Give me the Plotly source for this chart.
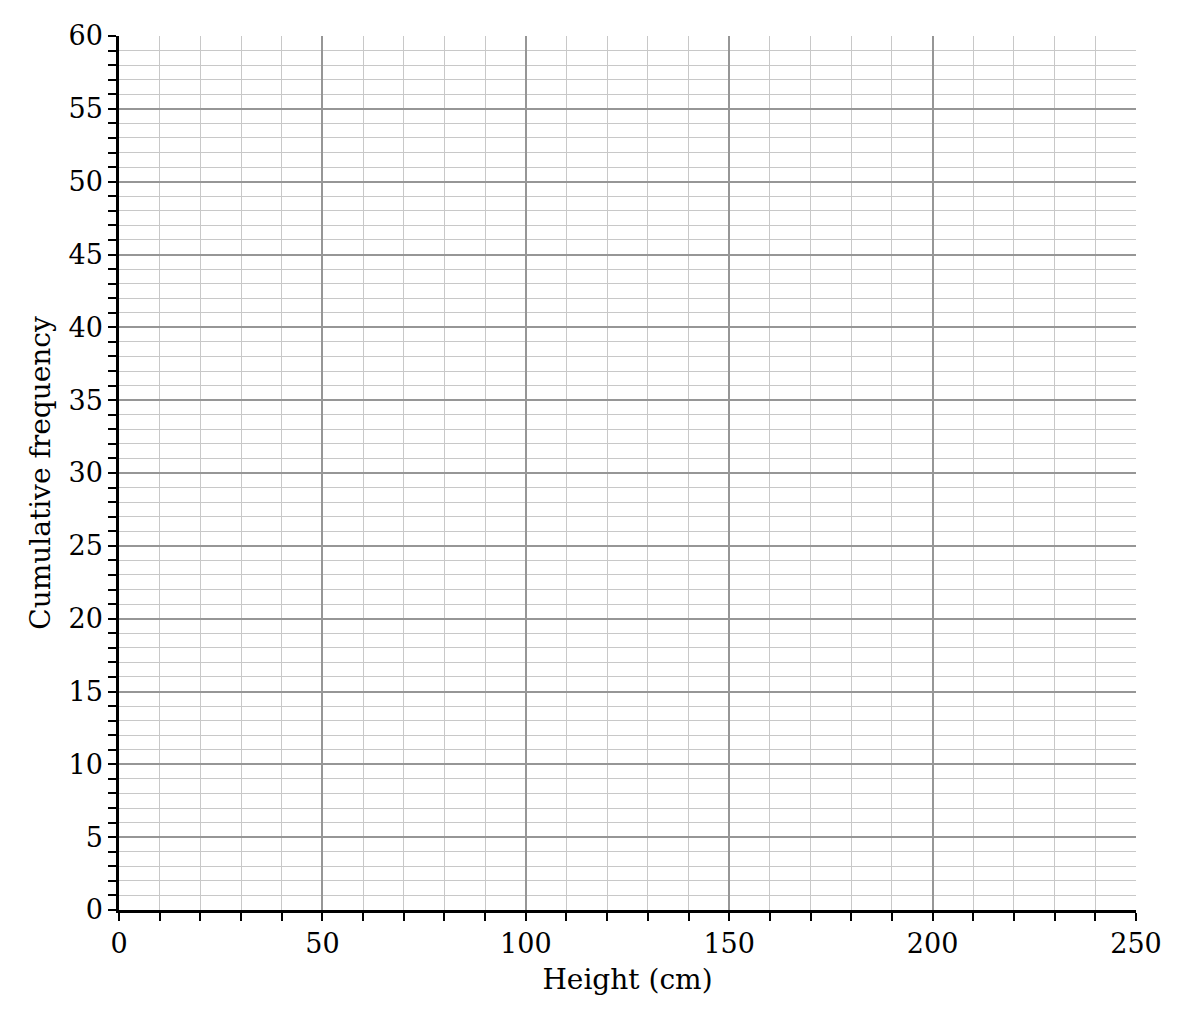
import plotly.graph_objects as go

# axis setup for the blank cumulative frequency grid
x_range = [0, 250]
y_range = [0, 60]
x_major = list(range(0, 251, 50))
y_major = list(range(0, 61, 5))
x_title = "Height (cm)"
y_title = "Cumulative frequency"

font = "DejaVu Serif"

fig = go.Figure()
# empty trace so the axes exist
fig.add_trace(go.Scatter(x=[], y=[], mode="markers", showlegend=False))

fig.update_xaxes(
    range=x_range,
    tickvals=x_major,
    ticktext=[str(v) for v in x_major],
    ticks="outside", ticklen=8, tickwidth=1.5, tickcolor="black",
    showline=True, linecolor="black", linewidth=2.5,
    showgrid=True, gridcolor="#969696", gridwidth=1.7,
    zeroline=False,
    minor=dict(dtick=10, ticks="outside", ticklen=8, tickwidth=1.5,
               tickcolor="black", showgrid=True, gridcolor="#c8c8c8", gridwidth=1),
    title=dict(text=x_title, font=dict(family=font, size=28, color="black"), standoff=12),
    tickfont=dict(family=font, size=27, color="black"),
)
fig.update_yaxes(
    range=y_range,
    tickvals=y_major,
    ticktext=[str(v) for v in y_major],
    ticks="outside", ticklen=8, tickwidth=1.5, tickcolor="black",
    showline=True, linecolor="black", linewidth=2.5,
    showgrid=True, gridcolor="#969696", gridwidth=1.7,
    zeroline=False,
    minor=dict(dtick=1, ticks="outside", ticklen=8, tickwidth=1.5,
               tickcolor="black", showgrid=True, gridcolor="#c8c8c8", gridwidth=1),
    title=dict(text=y_title, font=dict(family=font, size=28, color="black"), standoff=10),
    tickfont=dict(family=font, size=27, color="black"),
)

fig.update_layout(
    width=1190, height=1020,
    margin=dict(l=111, r=62, t=28, b=118),
    plot_bgcolor="white", paper_bgcolor="white",
    font=dict(family=font, color="black"),
)

fig.write_html("out.html")
